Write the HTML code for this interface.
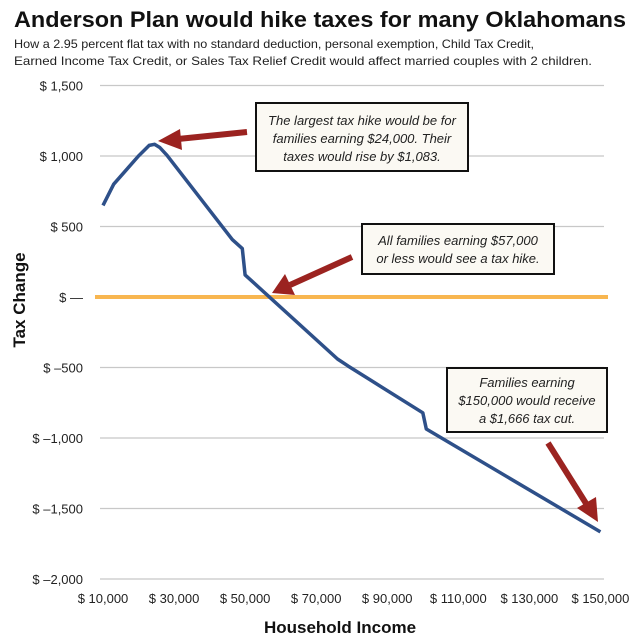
<!DOCTYPE html>
<html><head><meta charset="utf-8"><style>
body{margin:0;background:#fff;}
svg{display:block;font-family:"Liberation Sans",sans-serif;}
</style></head><body>
<svg width="640" height="640" viewBox="0 0 640 640">
<text x="14" y="27" font-size="22.5" font-weight="bold" fill="#111" textLength="612" lengthAdjust="spacingAndGlyphs">Anderson Plan would hike taxes for many Oklahomans</text>
<text x="14" y="48" font-size="12" fill="#222" textLength="520" lengthAdjust="spacingAndGlyphs">How a 2.95 percent flat tax with no standard deduction, personal exemption, Child Tax Credit,</text>
<text x="14" y="65" font-size="12" fill="#222" textLength="578" lengthAdjust="spacingAndGlyphs">Earned Income Tax Credit, or Sales Tax Relief Credit would affect married couples with 2 children.</text>
<g id="grid"></g>
<g id="ylabels"></g>
<g id="xlabels"></g>
<g id="zero"></g>
<g id="series"></g>
<text transform="translate(25,300) rotate(-90)" text-anchor="middle" font-size="17" font-weight="bold" fill="#111">Tax Change</text>
<text x="340" y="633" text-anchor="middle" font-size="17" font-weight="bold" fill="#111">Household Income</text>

<g>
<rect x="256" y="103" width="212" height="68" fill="#fbf9f3" stroke="#111" stroke-width="2"/>
<text font-size="13" font-style="italic" fill="#222" text-anchor="middle"><tspan x="362" y="125">The largest tax hike would be for</tspan><tspan x="362" y="143">families earning $24,000. Their</tspan><tspan x="362" y="161">taxes would rise by $1,083.</tspan></text>
</g>
<g>
<rect x="362" y="224" width="192" height="50" fill="#fbf9f3" stroke="#111" stroke-width="2"/>
<text font-size="13" font-style="italic" fill="#222" text-anchor="middle"><tspan x="458" y="245">All families earning $57,000</tspan><tspan x="458" y="263">or less would see a tax hike.</tspan></text>
</g>
<g>
<rect x="447" y="368" width="160" height="64" fill="#fbf9f3" stroke="#111" stroke-width="2"/>
<text font-size="13" font-style="italic" fill="#222" text-anchor="middle"><tspan x="527" y="387">Families earning</tspan><tspan x="527" y="405">$150,000 would receive</tspan><tspan x="527" y="423">a $1,666 tax cut.</tspan></text>
</g>
<g fill="#9b2320" stroke="#9b2320">
<line x1="247" y1="132" x2="178" y2="139" stroke-width="6"/>
<polygon points="158,141 180,129 182,150" stroke="none"/>
<line x1="352" y1="257" x2="290" y2="285" stroke-width="6"/>
<polygon points="272,293 285,274 295,295" stroke="none"/>
<line x1="548" y1="443" x2="587" y2="505" stroke-width="6"/>
<polygon points="598,522 577,508 596,497" stroke="none"/>
</g>
</svg>
<script>
const yTicks=[1500,1000,500,0,-500,-1000,-1500,-2000];
const yTickLabels=["$ 1,500","$ 1,000","$ 500","$ —","$ –500","$ –1,000","$ –1,500","$ –2,000"];
const xTicks=[10000,30000,50000,70000,90000,110000,130000,150000];
const xTickLabels=["$ 10,000","$ 30,000","$ 50,000","$ 70,000","$ 90,000","$ 110,000","$ 130,000","$ 150,000"];
const incomes=[10000,13000,20000,23000,24500,26000,28000,46400,49200,50000,76000,79000,100000,101000,150000];
const taxChange=[650,800,1000,1075,1083,1060,1005,407,343,157,-440,-490,-821,-936,-1666];
const NS="http://www.w3.org/2000/svg";
function xs(v){return 103+(v-10000)*0.003553;}
function ys(v){return 297-v*0.141;}
function mk(t,a,p){const e=document.createElementNS(NS,t);for(const k in a)e.setAttribute(k,a[k]);p.appendChild(e);return e;}
const g=document.getElementById('grid'),yl=document.getElementById('ylabels'),xl=document.getElementById('xlabels');
yTicks.forEach((v,i)=>{
 if(v!==0){const l=mk('line',{x1:100,x2:604,y1:ys(v),y2:ys(v),stroke:'#c8c8c8','stroke-width':1.3},g);
 
 }
 const t=mk('text',{x:83,y:ys(v)+5,'text-anchor':'end','font-size':13,fill:'#222'},yl);
 t.textContent=yTickLabels[i];
 
 
});
xTicks.forEach((v,i)=>{
 const t=mk('text',{x:xs(v),y:603,'text-anchor':'middle','font-size':13,fill:'#222'},xl);
 t.textContent=xTickLabels[i];
 
 
});
const z=mk('line',{x1:95,x2:608,y1:ys(0),y2:ys(0),stroke:'#f8b650','stroke-width':4},document.getElementById('zero'));


const pts=incomes.map((v,i)=>xs(v).toFixed(1)+','+ys(taxChange[i]).toFixed(1)).join(' ');
const pl=mk('polyline',{points:pts,fill:'none',stroke:'#2e5089','stroke-width':3.5,'stroke-linejoin':'round'},document.getElementById('series'));


</script>
</body></html>
